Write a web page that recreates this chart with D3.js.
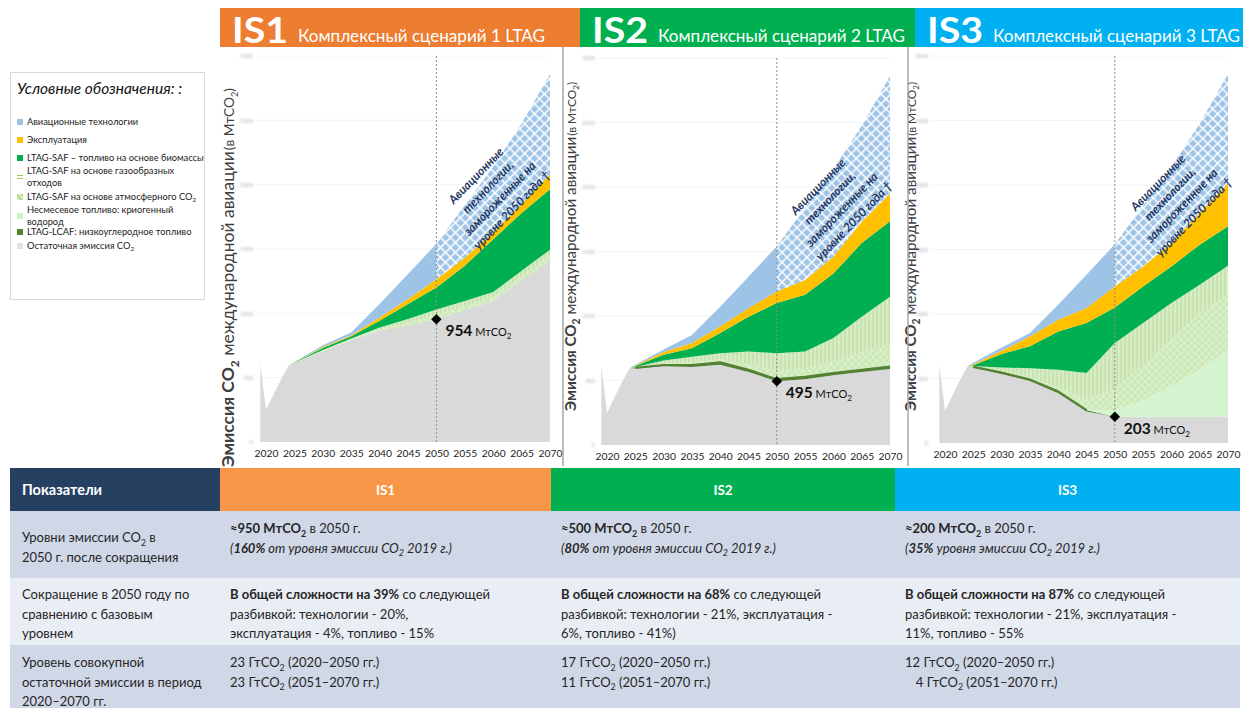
<!DOCTYPE html>
<html>
<head>
<meta charset="utf-8">
<script src="https://cdn.jsdelivr.net/npm/d3@7"></script>
<style>
  body { margin: 0; background: #fff; }
  svg { display: block; font-family: Lato, "Liberation Sans", sans-serif; }
</style>
</head>
<body>
<svg id="chart" width="1243" height="708"></svg>
<script>
// ---- data -------------------------------------------------------------
const years = [2019, 2020, 2021, 2022, 2023, 2024, 2025, 2030, 2035, 2040, 2045, 2050, 2055, 2060, 2065, 2070];
const xTickYears = [2020, 2025, 2030, 2035, 2040, 2045, 2050, 2055, 2060, 2065, 2070];
const yTickValues = [0, 500, 1000, 1500, 2000, 2500, 3000];
const markerYear = 2050;

const scenarioIds = ["IS1", "IS2", "IS3"];
const scenarioTitles = ["Комплексный сценарий 1 LTAG", "Комплексный сценарий 2 LTAG", "Комплексный сценарий 3 LTAG"];

// stacked layers, bottom to top (MtCO2 per year)
const layerKeys = ["residual", "lcaf", "h2", "safAtm", "safGas", "safBio", "ops", "tech"];

const is1Residual = [607, 250, 340, 430, 515, 595, 612, 705, 790, 865, 905, 954, 1025, 1095, 1256, 1411];
const is1Lcaf     = [0, 0, 0, 0, 0, 0, 0, 0, 0, 0, 0, 0, 0, 0, 0, 0];
const is1H2       = [0, 0, 0, 0, 0, 0, 0, 0, 0, 0, 0, 0, 0, 0, 0, 0];
const is1SafAtm   = [0, 0, 0, 0, 0, 0, 1, 4, 5, 10, 20, 31, 30, 30, 30, 34];
const is1SafGas   = [0, 0, 0, 0, 0, 0, 2, 6, 10, 15, 30, 45, 40, 40, 44, 50];
const is1SafBio   = [0, 0, 0, 0, 0, 0, 3, 15, 17, 52, 117, 170, 275, 410, 450, 470];
const is1Ops      = [0, 0, 0, 0, 0, 0, 2, 8, 8, 26, 40, 65, 62, 60, 70, 117];
const is1Tech     = [0, 0, 0, 0, 0, 0, 2, 14, 22, 104, 193, 275, 408, 505, 625, 778];

const is2Residual = [607, 250, 340, 430, 515, 595, 595, 610, 605, 622, 565, 495, 510, 540, 565, 590];
const is2Lcaf     = [0, 0, 0, 0, 0, 0, 3, 10, 15, 18, 17, 15, 18, 18, 17, 18];
const is2H2       = [0, 0, 0, 0, 0, 0, 0, 0, 0, 0, 0, 0, 0, 0, 0, 0];
const is2SafAtm   = [0, 0, 0, 0, 0, 0, 2, 10, 20, 22, 43, 62, 62, 87, 133, 172];
const is2SafGas   = [0, 0, 0, 0, 0, 0, 5, 25, 45, 50, 100, 140, 135, 185, 280, 370];
const is2SafBio   = [0, 0, 0, 0, 0, 0, 7, 45, 65, 156, 270, 388, 440, 500, 570, 585];
const is2Ops      = [0, 0, 0, 0, 0, 0, 4, 20, 40, 52, 65, 90, 115, 130, 165, 215];
const is2Tech     = [0, 0, 0, 0, 0, 0, 6, 20, 62, 152, 245, 350, 560, 680, 745, 910];

const is3Residual = [607, 250, 340, 430, 515, 595, 585, 535, 480, 385, 245, 203, 203, 203, 203, 203];
const is3Lcaf     = [0, 0, 0, 0, 0, 0, 5, 10, 12, 15, 10, 0, 0, 0, 0, 0];
const is3H2       = [0, 0, 0, 0, 0, 0, 0, 0, 0, 0, 3, 47, 127, 237, 367, 507];
const is3SafAtm   = [0, 0, 0, 0, 0, 0, 2, 11, 18, 30, 72, 170, 270, 360, 430, 440];
const is3SafGas   = [0, 0, 0, 0, 0, 0, 4, 29, 70, 138, 212, 355, 330, 285, 227, 225];
const is3SafBio   = [0, 0, 0, 0, 0, 0, 6, 105, 170, 297, 388, 275, 284, 284, 310, 305];
const is3Ops      = [0, 0, 0, 0, 0, 0, 8, 25, 76, 91, 116, 164, 155, 181, 246, 336];
const is3Tech     = [0, 0, 0, 0, 0, 0, 12, 25, 26, 116, 259, 326, 471, 590, 692, 844];

const scenarioLayers = [
  [is1Residual, is1Lcaf, is1H2, is1SafAtm, is1SafGas, is1SafBio, is1Ops, is1Tech],
  [is2Residual, is2Lcaf, is2H2, is2SafAtm, is2SafGas, is2SafBio, is2Ops, is2Tech],
  [is3Residual, is3Lcaf, is3H2, is3SafAtm, is3SafGas, is3SafBio, is3Ops, is3Tech]
];

const legendTitle = "Условные обозначения: :";
const legendLabels = [
  ["Авиационные технологии"],
  ["Эксплуатация"],
  ["LTAG-SAF – топливо на основе биомассы"],
  ["LTAG-SAF на основе газообразных", "отходов"],
  ["LTAG-SAF на основе атмосферного CO{2}"],
  ["Несмесевое топливо: криогенный", "водород"],
  ["LTAG-LCAF: низкоуглеродное топливо"],
  ["Остаточная эмиссия CO{2}"]
];
const legendKeys = ["tech", "ops", "safBio", "safGas", "safAtm", "h2", "lcaf", "residual"];

const frozenNote = ["Авиационные", "технологии,", "замороженные на", "уровне 2050 года †"];
const yTitle = "*Эмиссия CO{2}* международной авиации ";
const yTitleUnit = "(в МтCO{2})";

const tableHeader = ["Показатели", "IS1", "IS2", "IS3"];
const tableRows = [
  [
    ["Уровни эмиссии CO{2} в", "2050 г. после сокращения"],
    ["*≈950 МтCO{2}* в 2050 г.", "/(*160%* от уровня эмиссии CO{2} 2019 г.)/"],
    ["*≈500 МтCO{2}* в 2050 г.", "/(*80%* от уровня эмиссии CO{2} 2019 г.)/"],
    ["*≈200 МтCO{2}* в 2050 г.", "/(*35%* уровня эмиссии CO{2} 2019 г.)/"]
  ],
  [
    ["Сокращение в 2050 году по", "сравнению с базовым", "уровнем"],
    ["*В общей сложности на 39%* со следующей", "разбивкой: технологии - 20%,", "эксплуатация - 4%, топливо - 15%"],
    ["*В общей сложности на 68%* со следующей", "разбивкой: технологии - 21%, эксплуатация -", "6%, топливо - 41%)"],
    ["*В общей сложности на 87%* со следующей", "разбивкой: технологии - 21%, эксплуатация -", "11%, топливо - 55%"]
  ],
  [
    ["Уровень совокупной", "остаточной эмиссии в период", "2020–2070 гг."],
    ["23 ГтCO{2} (2020–2050 гг.)", "23 ГтCO{2} (2051–2070 гг.)"],
    ["17 ГтCO{2} (2020–2050 гг.)", "11 ГтCO{2} (2051–2070 гг.)"],
    ["12 ГтCO{2} (2020–2050 гг.)", "\u2007 4 ГтCO{2} (2051–2070 гг.)"]
  ]
];

// ---- styling ----------------------------------------------------------
const headerColors = ["#ED7D31", "#00B050", "#00B0F0"];
const tableHeadColors = ["#254061", "#F79646", "#00B050", "#00B0F0"];
const rowColors = ["#D0D8E8", "#E9EDF4", "#D0D8E8"];

const svg = d3.select("#chart");
const defs = svg.append("defs");

function pattern(id, size, rotate, bg, draw) {
  const p = defs.append("pattern").attr("id", id).attr("patternUnits", "userSpaceOnUse")
    .attr("width", size).attr("height", size);
  if (rotate) p.attr("patternTransform", `rotate(${rotate})`);
  p.append("rect").attr("width", size).attr("height", size).attr("fill", bg);
  draw(p);
}
pattern("techFrozen", 7, 45, "#9DC3E6", p => p.append("path")
  .attr("d", "M0,3.5H7M3.5,0V7").attr("stroke", "#fff").attr("stroke-width", 1.5));
pattern("gasFill", 4, 0, "#D6ECC2", p => p.append("path")
  .attr("d", "M1,0V4").attr("stroke", "#BADB9C").attr("stroke-width", 1));
pattern("atmFill", 5, 45, "#D9EFC8", p => p.append("path")
  .attr("d", "M0,2.5H5M2.5,0V5").attr("stroke", "#C3E3AA").attr("stroke-width", 0.8));
pattern("legGas", 6, 0, "#fff", p => p.append("path")
  .attr("d", "M0,1.5H6M0,4.5H6").attr("stroke", "#92D050").attr("stroke-width", 1));
pattern("legAtm", 4, 45, "#D9EFC8", p => p.append("path")
  .attr("d", "M0,2H4").attr("stroke", "#92D050").attr("stroke-width", 1.2));

const layerFill = {
  residual: "#D9D9D9", lcaf: "#548235", h2: "#D3F4CE", safAtm: "url(#atmFill)",
  safGas: "url(#gasFill)", safBio: "#00B050", ops: "#FFC000", tech: "#9DC3E6"
};
const legendFill = Object.assign({}, layerFill, { safGas: "url(#legGas)", safAtm: "url(#legAtm)", h2: "#C6F5C0", residual: "#E3E3E3" });

// rich text: *bold*, /italic/, {subscript}
function rich(sel, x, y, str, size, attrs) {
  const t = sel.append("text").attr("x", x).attr("y", y).attr("font-size", size);
  if (attrs) Object.entries(attrs).forEach(([k, v]) => t.attr(k, v));
  let bold = false, ital = false, sub = false, buf = "", shift = 0;
  const flush = () => {
    if (!buf) return;
    const sp = t.append("tspan").text(buf);
    if (bold) sp.attr("font-weight", 700);
    if (ital) sp.attr("font-style", "italic");
    const want = sub ? size * 0.28 : 0;
    if (sub) sp.attr("font-size", size * 0.68);
    if (want !== shift) { sp.attr("dy", want - shift); shift = want; }
    buf = "";
  };
  for (const ch of str) {
    if (ch === "*") { flush(); bold = !bold; }
    else if (ch === "/") { flush(); ital = !ital; }
    else if (ch === "{") { flush(); sub = true; }
    else if (ch === "}") { flush(); sub = false; }
    else buf += ch;
  }
  flush();
  return t;
}

// ---- scenario panels ---------------------------------------------------
const panels = [
  { hx: [220, 580], x: [266, 550], y: [442, 56], titleX: 234, titleY: 467, titleSize: 17.5, tickX: 253, note: [494, 193] },
  { hx: [580, 915], x: [607, 890], y: [445, 58], titleX: 576, titleY: 411, titleSize: 15.2, tickX: 595, note: [836, 204] },
  { hx: [915, 1243], x: [945, 1228], y: [443, 56], titleX: 916, titleY: 411, titleSize: 15.2, tickX: 928, note: [1176, 200] }
];

const blur = defs.append("filter").attr("id", "soft").attr("x", "-50%").attr("y", "-50%").attr("width", "200%").attr("height", "200%");
blur.append("feGaussianBlur").attr("stdDeviation", 0.8);

panels.forEach((pn, si) => {
  const g = svg.append("g");
  const x = d3.scaleLinear().domain([2020, 2070]).range(pn.x);
  const y = d3.scaleLinear().domain([0, 3000]).range(pn.y);

  // header band
  g.append("rect").attr("x", pn.hx[0]).attr("y", 8).attr("width", pn.hx[1] - pn.hx[0]).attr("height", 39)
    .attr("fill", headerColors[si]);
  g.append("text").attr("x", pn.hx[0] + 12).attr("y", 43).attr("fill", "#fff")
    .attr("font-size", 36).attr("font-weight", 700)
    .attr("textLength", 56).attr("lengthAdjust", "spacingAndGlyphs").text(scenarioIds[si]);
  g.append("text").attr("x", pn.hx[0] + 78).attr("y", 42).attr("fill", "#fff")
    .attr("font-size", 16.5)
    .attr("textLength", 247).attr("lengthAdjust", "spacingAndGlyphs").text(scenarioTitles[si]);

  // faint grid and value labels
  const yAxis = d3.axisLeft(y).tickValues(yTickValues).tickFormat(d3.format("d")).tickSize(0).tickPadding(0);
  const ya = g.append("g").attr("transform", `translate(${pn.tickX},0)`).call(yAxis);
  ya.select(".domain").remove();
  ya.selectAll("text").attr("font-size", 5.5).attr("font-weight", 700).attr("fill", "#c4c4c4")
    .attr("font-family", "Lato, sans-serif").attr("filter", "url(#soft)");
  g.selectAll(".grid").data(yTickValues.slice(1)).join("line")
    .attr("x1", pn.tickX + 3).attr("x2", pn.x[1]).attr("y1", d => y(d)).attr("y2", d => y(d))
    .attr("stroke", "#f4f4f4").attr("stroke-width", 1);

  // stacked areas
  const layers = scenarioLayers[si];
  const rows = years.map((yr, i) => {
    const r = { year: yr };
    layerKeys.forEach((k, j) => { r[k] = layers[j][i]; });
    return r;
  });
  const series = d3.stack().keys(layerKeys)(rows);
  const area = d3.area().x(d => x(d.data.year)).y0(d => y(d[0])).y1(d => y(d[1]));

  const clipL = `clipL${si}`, clipR = `clipR${si}`;
  defs.append("clipPath").attr("id", clipL).append("rect")
    .attr("x", 0).attr("y", 0).attr("width", x(markerYear)).attr("height", 708);
  defs.append("clipPath").attr("id", clipR).append("rect")
    .attr("x", x(markerYear)).attr("y", 0).attr("width", 1243 - x(markerYear)).attr("height", 708);

  series.forEach(s => {
    if (s.key === "tech") {
      g.append("path").datum(s).attr("d", area).attr("fill", layerFill.tech).attr("clip-path", `url(#${clipL})`);
      g.append("path").datum(s).attr("d", area).attr("fill", "url(#techFrozen)").attr("clip-path", `url(#${clipR})`);
    } else {
      g.append("path").datum(s).attr("d", area).attr("fill", layerFill[s.key]);
    }
  });
  // low-carbon fuel drawn as a line over the residual
  const lcafSeries = series.find(s => s.key === "lcaf");
  const lcafLine = d3.line().defined(d => d[1] - d[0] > 0.5).x(d => x(d.data.year)).y(d => y(d[1]));
  g.append("path").datum(lcafSeries).attr("d", lcafLine).attr("fill", "none")
    .attr("stroke", "#548235").attr("stroke-width", 2.2);

  // x axis
  const xAxis = d3.axisBottom(x).tickValues(xTickYears).tickFormat(d3.format("d")).tickSize(0).tickPadding(0);
  const xa = g.append("g").attr("transform", `translate(0,${pn.y[0] + 8})`).call(xAxis);
  xa.select(".domain").remove();
  xa.selectAll("text").attr("font-size", 10.3).attr("fill", "#222").attr("font-family", "Lato, sans-serif");

  // 2050 reference line and residual marker
  const mx = x(markerYear);
  g.append("line").attr("x1", mx).attr("x2", mx).attr("y1", pn.y[1]).attr("y2", pn.y[0])
    .attr("stroke", "#8c8c8c").attr("stroke-width", 1).attr("stroke-dasharray", "2,2");
  const mIdx = years.indexOf(markerYear);
  const mVal = layers[0][mIdx];
  const my = y(mVal);
  g.append("path").attr("d", d3.symbol(d3.symbolDiamond2, 70)()).attr("transform", `translate(${mx},${my})`)
    .attr("fill", "#000");
  const lab = g.append("text").attr("x", mx + 9).attr("y", my + 17).attr("fill", "#111");
  lab.append("tspan").attr("font-size", 15.5).attr("font-weight", 700).text(mVal);
  lab.append("tspan").attr("font-size", 11).text(" МтCO");
  lab.append("tspan").attr("font-size", 8).attr("dy", 3).text("2");

  // frozen technology note
  const ng = g.append("g").attr("transform", `translate(${pn.note[0]},${pn.note[1]}) rotate(-46)`);
  frozenNote.forEach((ln, i) => {
    ng.append("text").attr("x", 0).attr("y", (i - 1.5) * 16.5 + 4).attr("text-anchor", "middle")
      .attr("font-size", 12).attr("font-weight", 700).attr("font-style", "italic").attr("fill", "#1F3864")
      .text(ln);
  });

  // vertical axis title
  const tg = g.append("g").attr("transform", `translate(${pn.titleX},${pn.titleY}) rotate(-90)`);
  const tt = rich(tg, 0, 0, yTitle, pn.titleSize, { fill: "#404040" });
  const tu = rich(tg, 0, 0, yTitleUnit, pn.titleSize * 0.78, { fill: "#404040" });
  tu.attr("x", tt.node().getComputedTextLength() + 1);
});

// panel separators
[563, 908].forEach(sx => {
  svg.append("line").attr("x1", sx).attr("x2", sx).attr("y1", 47).attr("y2", 466)
    .attr("stroke", "#a6a6a6").attr("stroke-width", 1.5);
});

// ---- legend ------------------------------------------------------------
const lg = svg.append("g");
lg.append("rect").attr("x", 10.5).attr("y", 72.5).attr("width", 194).attr("height", 227)
  .attr("fill", "#fff").attr("stroke", "#d9d9d9");
lg.append("text").attr("x", 17).attr("y", 94).attr("font-size", 15.5).attr("font-style", "italic")
  .attr("fill", "#111").text(legendTitle);
const legendY = [121, 139, 157, 170, 196, 209, 231, 245];
legendLabels.forEach((lines, i) => {
  const cy = legendY[i] + (lines.length - 1) * 6;
  lg.append("rect").attr("x", 17).attr("y", cy - 2).attr("width", 6).attr("height", 6)
    .attr("fill", legendFill[legendKeys[i]]);
  lines.forEach((ln, j) => rich(lg, 27, legendY[i] + 3.5 + j * 12, ln, 9.3, { fill: "#222" }));
});

// ---- summary table -----------------------------------------------------
const colX = [10, 220, 551, 895, 1240];
const rowY = [468, 511, 578, 645, 708];
const tb = svg.append("g");
tableHeader.forEach((h, c) => {
  tb.append("rect").attr("x", colX[c]).attr("y", rowY[0]).attr("width", colX[c + 1] - colX[c])
    .attr("height", rowY[1] - rowY[0]).attr("fill", tableHeadColors[c]);
  const cx = c === 0 ? colX[0] + 12 : (colX[c] + colX[c + 1]) / 2;
  tb.append("text").attr("x", cx).attr("y", 495).attr("text-anchor", c === 0 ? "start" : "middle")
    .attr("fill", "#fff").attr("font-weight", 700).attr("font-size", c === 0 ? 14.5 : 13.5).text(h);
});
const lineBase = [[533, 533], [599, 599], [667, 667]];
tableRows.forEach((row, r) => {
  tb.append("rect").attr("x", colX[0]).attr("y", rowY[r + 1]).attr("width", colX[4] - colX[0])
    .attr("height", rowY[r + 2] - rowY[r + 1]).attr("fill", rowColors[r]);
  row.forEach((cell, c) => {
    const x0 = c === 0 ? colX[0] + 12 : colX[c] + 10;
    let y0 = lineBase[r][c === 0 ? 0 : 1];
    if (r === 0 && c === 0) y0 = 542;
    cell.forEach((ln, j) => rich(tb, x0, y0 + j * 19.5, ln, 13, { fill: "#262626" }));
  });
});
</script>
</body>
</html>
